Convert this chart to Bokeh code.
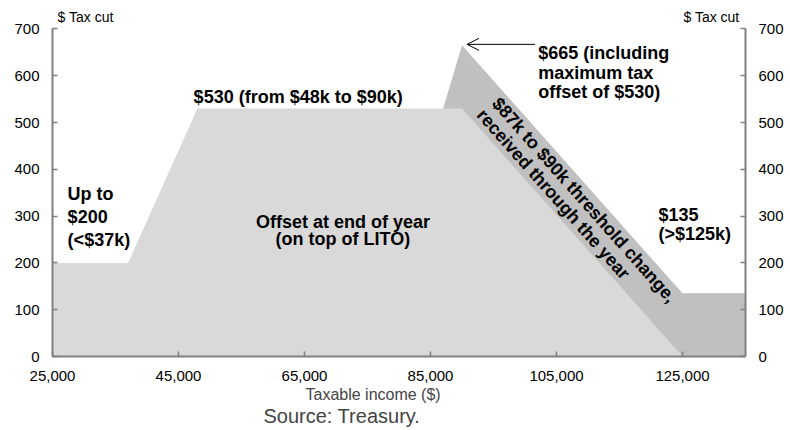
from bokeh.plotting import figure
from bokeh.models import (ColumnDataSource, Range1d, LinearAxis, FixedTicker,
                          NumeralTickFormatter, Label, Arrow, OpenHead, Title)
from bokeh.embed import file_html
from bokeh.resources import INLINE
import math

# ---- data ----
income_end = [25000, 37000, 48000, 90000, 125000]
offset_end = [200, 200, 530, 530, 0]
income_total = [87000, 90000, 125000, 135000]
offset_total = [530, 665, 135, 135]
x_ticks = [25000, 45000, 65000, 85000, 105000, 125000]
y_ticks = [0, 100, 200, 300, 400, 500, 600, 700]

FONT = "Liberation Sans"
LIGHT = "#d9d9d9"
DARK = "#c0c0c0"
AXC = "#808080"

p = figure(width=790, height=430, output_backend="svg", toolbar_location=None,
           x_range=Range1d(25000, 135000), y_range=Range1d(0, 750),
           min_border_left=52, min_border_right=45, min_border_top=5,
           min_border_bottom=74)
p.outline_line_color = None
p.xgrid.visible = False
p.ygrid.visible = False
p.background_fill_color = "white"

src_total = ColumnDataSource(dict(x=income_total, y=offset_total))
src_end = ColumnDataSource(dict(x=income_end, y=offset_end))
p.varea(x="x", y1=0, y2="y", source=src_total, fill_color=DARK)
p.varea(x="x", y1=0, y2="y", source=src_end, fill_color=LIGHT)

right = LinearAxis()
p.add_layout(right, "right")

p.xaxis.ticker = FixedTicker(ticks=x_ticks)
p.xaxis.formatter = NumeralTickFormatter(format="0,0")
for ax in [p.yaxis[0], right]:
    ax.ticker = FixedTicker(ticks=y_ticks)
    ax.bounds = (0, 700)

for ax in [p.xaxis[0], p.yaxis[0], right]:
    ax.axis_line_color = AXC
    ax.axis_line_width = 2
    ax.major_tick_line_color = AXC
    ax.major_tick_line_width = 1.5
    ax.major_tick_in = 5
    ax.major_tick_out = 0
    ax.minor_tick_line_color = None
    ax.major_label_text_font = FONT
    ax.major_label_text_font_size = "15px"
    ax.major_label_text_color = "black"
    ax.major_label_standoff = 13
p.xaxis.major_label_standoff = 14

t1 = Title(text="Taxable income ($)", align="left", offset=253, standoff=0,
           text_font=FONT, text_font_size="16px", text_font_style="normal")
p.add_layout(t1, "below")
t2 = Title(text="Source: Treasury.", align="left", offset=211, standoff=0,
           text_font=FONT, text_font_size="20px", text_font_style="normal")
p.add_layout(t2, "below")

def lab(x, y, text, size="18px", bold=True, align="left", baseline="alphabetic", angle=0.0):
    p.add_layout(Label(x=x, y=y, text=text, text_font=FONT, text_font_size=size,
                       text_font_style="bold" if bold else "normal",
                       text_align=align, text_baseline=baseline, angle=angle,
                       text_color="black"))

# axis titles
lab(25800, 726, "$ Tax cut", size="14px", bold=False)
lab(134050, 726, "$ Tax cut", size="14px", bold=False, align="right")

# annotations
lab(27400, 348, "Up to")
lab(27400, 298, "$200")
lab(27400, 249, "(<$37k)")
lab(47400, 555, "$530 (from $48k to $90k)")
lab(71100, 288, "Offset at end of year", align="center")
lab(71100, 252, "(on top of LITO)", align="center")
lab(102100, 649, "$665 (including")
lab(102100, 605, "maximum tax")
lab(102100, 566, "offset of $530)")
lab(121200, 303, "$135")
lab(121200, 261, "(>$125k)")

ang = -math.radians(48.4)
lab(109400, 334, "$87k to $90k threshold change,", align="center", baseline="middle", angle=ang)
lab(104500, 347, "received through the year", align="center", baseline="middle", angle=ang)

p.add_layout(Arrow(end=OpenHead(size=12, line_width=1, line_color="black"),
                   x_start=101600, y_start=667, x_end=90800, y_end=667,
                   line_width=1, line_color="black"))

open("out.html", "w").write(file_html(p, INLINE))
